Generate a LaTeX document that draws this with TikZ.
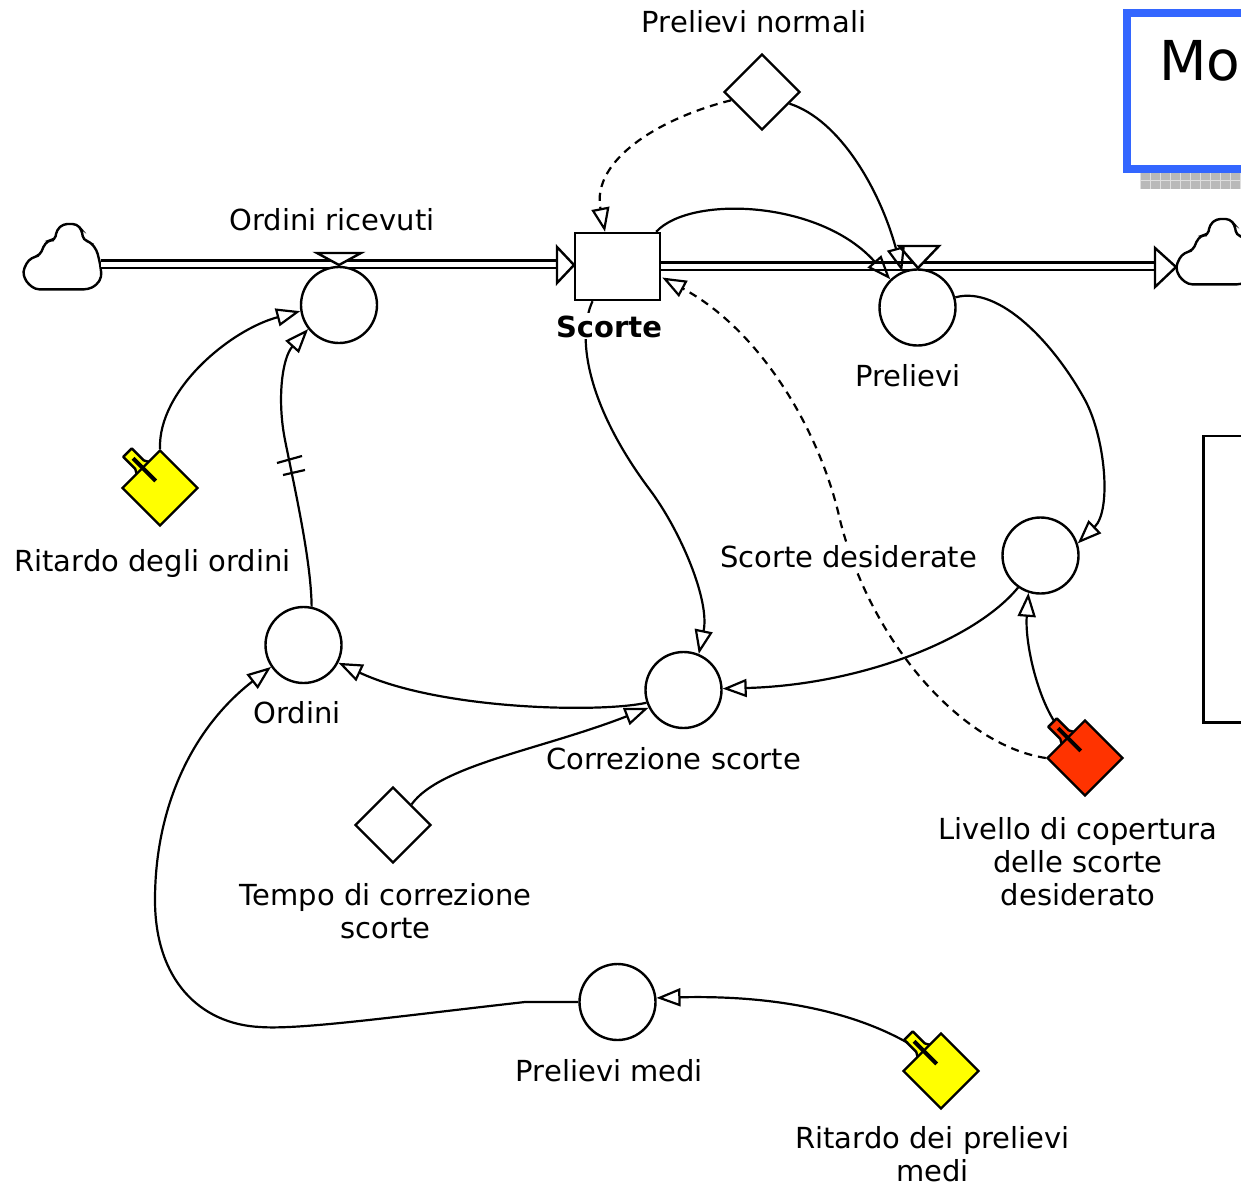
\documentclass[tikz,border=0pt]{standalone}
\usepackage{fontspec}
\setmainfont{DejaVu Sans}
\usetikzlibrary{arrows.meta,shapes.geometric,calc}
\definecolor{knobY}{RGB}{255,255,0}
\definecolor{knobR}{RGB}{255,51,0}
\definecolor{frameblue}{RGB}{51,102,255}
\newcommand{\knob}[4]{%
  \begin{scope}[shift={(#2,#3)}, x={(0.35355pt,-0.35355pt)}, y={(-0.35355pt,-0.35355pt)}]
    \draw[line width=1.2pt, fill=#4, line join=round] (-24,-12) -- (-31,-8) -- (-48,-8) -- (-48,4) -- (-31,4) -- (-24,8) -- cycle;
  \end{scope}
  \node[const, fill=#4] (#1) at (#2,#3) {};
  \begin{scope}[shift={(#2,#3)}, x={(0.35355pt,-0.35355pt)}, y={(-0.35355pt,-0.35355pt)}]
    \draw[line width=2pt] (-40,-2) -- (-8,-2);
  \end{scope}}
\newcommand{\cloudshape}[2]{%
  \draw[line width=1.2pt, fill=white, rounded corners=2pt, shift={(#1,#2)}]
    (100,263.3) -- (101.7,276.7) -- (96.7,285) -- (88.3,289.3) -- (35,289.3) -- (26,281.7)
    -- (22.7,271.7) -- (28.3,260) -- (35,256.7) -- (40,255) -- (45,243.3) -- (50,240)
    -- (55,240) -- (56.7,230) -- (63.3,224) -- (76.7,224) -- (81.7,230) -- (83.3,240)
    -- (90,241.7) -- (96.7,250) -- cycle;}
\begin{document}
\begin{tikzpicture}[x=0.5pt,y=-0.5pt,
  lbl/.style={font=\fontsize{14.5pt}{16.5pt}\selectfont, inner sep=0pt, align=center},
  aux/.style={circle, draw, line width=1.2pt, minimum size=38pt, inner sep=0pt, fill=white},
  const/.style={diamond, aspect=1, draw, line width=1.2pt, minimum width=38pt, minimum height=38pt, inner sep=0pt, fill=white},
  stockbox/.style={rectangle, draw, line width=1.2pt, minimum width=42.5pt, minimum height=33.5pt, inner sep=0pt, fill=white},
  link/.style={line width=1.1pt, -{Triangle[open, length=12pt, width=9pt]}},
  dlink/.style={link, dash pattern=on 4pt off 3pt},
  pipe/.style={double, double distance=2.5pt, line width=1.1pt},
  tri/.style={draw, line width=1.2pt, fill=white, line join=miter},
]
\useasboundingbox (0,0) rectangle (1241,1188);
\clip (0,0) rectangle (1241,1188);

% title frame (top right)
\fill[gray!55] (1140,173) rectangle (1262,189);
\draw[gray!25, line width=0.4pt, step=5pt] (1140,173) grid (1262,189);
\draw[frameblue, line width=4pt, fill=white] (1127,13) rectangle (1262,169);
\node[anchor=base west, inner sep=0pt, font=\fontsize{27.5pt}{31pt}\selectfont] (mo) at (1159,81) {Mo};

% right box
\draw[line width=1.1pt, black] (1203.5,436) rectangle (1262,722.5);

% clouds
\cloudshape{0}{0}
\cloudshape{1153}{-5}
\coordinate (srcL) at (101,264);
\coordinate (sinkR) at (1155,266);

% pipes
\draw[pipe] (srcL) -- (557,264);
\draw[tri] (557,247) -- (574,265) -- (557,283) -- cycle;
\draw[pipe] (660,266) -- (sinkR);
\draw[tri] (1155,248) -- (1176,267) -- (1155,287) -- cycle;

% valves
\node[aux] (ordric) at (339,305) {};
\draw[tri] (317,253) -- (361,253) -- (339,265) -- cycle;
\node[aux] (prel) at (917.5,307.5) {};
\draw[tri] (899,246) -- (939,246) -- (918,268) -- cycle;

% stock
\node[stockbox] (stock) at (617.5,266.5) {};

% other variables
\node[const] (pnorm) at (762,92) {};
\node[aux] (ord) at (303.5,645) {};
\node[aux] (corr) at (683.5,690) {};
\node[aux] (sdes) at (1040.5,555.5) {};
\node[aux] (pmedi) at (617.5,1002) {};
\node[const] (tempo) at (393,825) {};
\knob{rord}{160}{488}{knobY}
\knob{liv}{1085}{758}{knobR}
\knob{rpm}{941}{1071}{knobY}

% connectors
\draw[dlink] (pnorm.195) .. controls (660,118) and (591,160) .. ($(stock.north)+(-12.5,0)$);
\draw[link] (pnorm.-23) .. controls (840,120) and (880,190) .. (prel.113);
\draw[link] ($(stock.north east)+(-5,0)$) .. controls (690,195) and (820,200) .. (prel.134);
\draw[dlink] (liv.west) .. controls (960,745) and (870,640) .. (840,520) .. controls (820,430) and (760,330) .. ($(stock.east)+(1,11)$);
\draw[link] ($(stock.south)+(-25,0)$) .. controls (575,340) and (590,410) .. (650,490) .. controls (680,530) and (710,600) .. (corr.67);
\draw[link] (prel.15) .. controls (1000,285) and (1055,345) .. (1085,400) .. controls (1105,437) and (1112,510) .. (sdes.18);
\draw[link] (sdes.235) .. controls (975,640) and (860,685) .. (corr.2);
\draw[link] ($(liv)+(-31,-37)$) .. controls (1035,690) and (1025,640) .. (sdes.252);
\draw[link] (corr.199) .. controls (600,713) and (440,710) .. (ord.333);
\draw[link] (tempo.48) .. controls (440,765) and (540,750) .. (corr.207);
\draw[link] (ord.78) .. controls (311,560) and (295,490) .. (285,440) .. controls (277,400) and (282,358) .. (ordric.218);
\draw[line width=1.1pt] (277,463) -- (302,456) (283,475) -- (305,470);
\draw[link] (rord.north) .. controls (158,390) and (230,330) .. (ordric.189);
\draw[link] (pmedi.west) -- (525,1002) .. controls (400,1016) and (300,1030) .. (260,1027) .. controls (200,1024) and (155,980) .. (155,900) .. controls (155,810) and (190,730) .. (ord.214);
\draw[link] ($(rpm)+(-33,-28)$) .. controls (850,1010) and (770,995) .. (pmedi.6);

% labels
\node[lbl, anchor=base] (lpnorm) at (754,33) {Prelievi normali};
\node[lbl, anchor=base] (lordric) at (332,230) {Ordini ricevuti};
\node[lbl, anchor=base, font={\fontsize{14.5pt}{16.5pt}\selectfont\bfseries}, fill=white, inner sep=1pt] (lstock) at (609,337) {Scorte};
\node[lbl, anchor=base] (lprel) at (908,386) {Prelievi};
\node[lbl, anchor=base] (lrord) at (152.5,571) {Ritardo degli ordini};
\node[lbl, anchor=base, fill=white, inner sep=1pt] (lsdes) at (848.5,567) {Scorte desiderate};
\node[lbl, anchor=base] (lord) at (297,723) {Ordini};
\node[lbl, anchor=base] (lcorr) at (673.5,769) {Correzione scorte};
\node[lbl] (ltempo) at (385.5,911) {Tempo di correzione\\scorte};
\node[lbl] (lliv) at (1078,862) {Livello di copertura\\delle scorte\\desiderato};
\node[lbl, anchor=base] (lpmedi) at (609.5,1081) {Prelievi medi};
\node[lbl] (lrpm) at (932.5,1154) {Ritardo dei prelievi\\medi};
\end{tikzpicture}
\end{document}
